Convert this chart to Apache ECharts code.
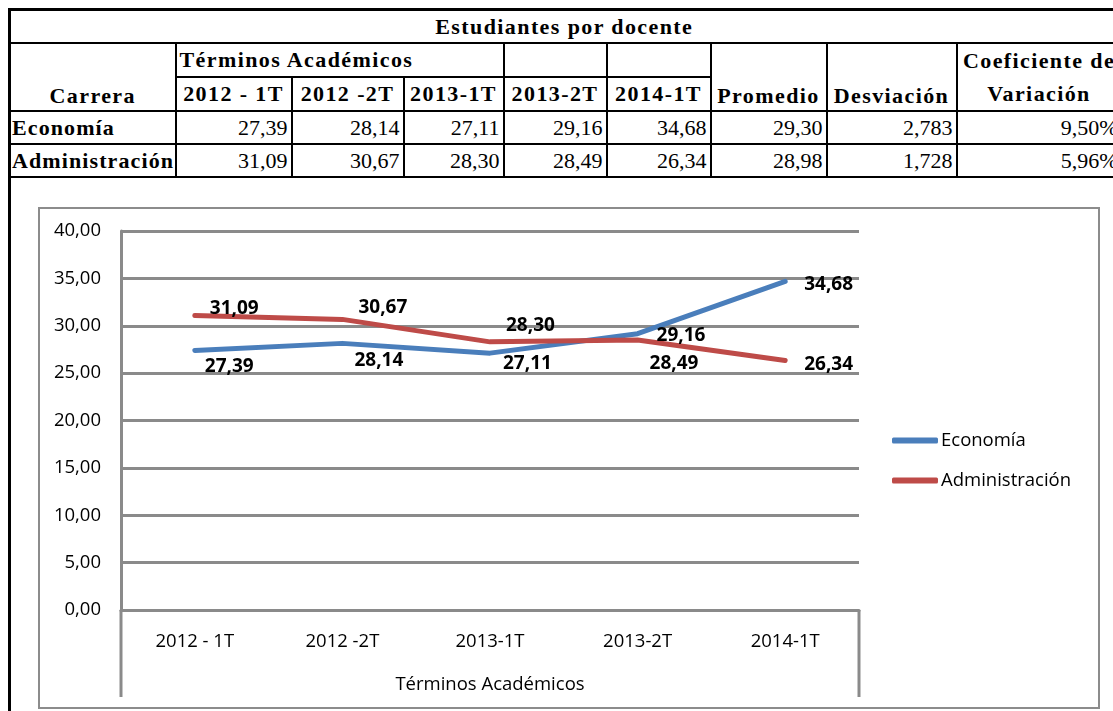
<!DOCTYPE html>
<html>
<head>
<meta charset="utf-8">
<script src="https://cdn.jsdelivr.net/npm/echarts@6/dist/echarts.min.js"></script>
<style>
  html, body { margin: 0; padding: 0; background: #fff; }
  body { width: 1113px; height: 711px; overflow: hidden; position: relative; }
  #tabla {
    position: absolute; left: 8px; top: 8px; width: 1112px;
    border-collapse: collapse; table-layout: fixed;
    font-family: "Liberation Serif", "Times New Roman", serif;
    font-size: 22px; color: #000;
  }
  #tabla td { border: 2px solid #000; height: 29px; padding: 0 3px; white-space: nowrap; overflow: hidden; line-height: 29px; }
  #tabla td.b { font-weight: bold; letter-spacing: 1.4px; }
  #tabla td.num { text-align: right; }
  #tabla td.c { text-align: center; }
  #tabla tr:first-child td { border-top-width: 3px; }
  #tabla td.l { border-left-width: 3px; }
  #tabla td.first { padding: 0 0 0 1px; letter-spacing: 1.1px; }
  #bordeIzq { position: absolute; left: 8px; top: 8px; width: 3px; height: 703px; background: #000; }
  #grafico {
    position: absolute; left: 38px; top: 207px; width: 1062px; height: 502px;
    border: 2px solid #8c8c8c; box-sizing: border-box;
  }
</style>
</head>
<body>
<table id="tabla"></table>
<div id="bordeIzq"></div>
<div id="grafico"></div>
<script>
"use strict";

const terminos = ["2012 - 1T", "2012 -2T", "2013-1T", "2013-2T", "2014-1T"];
const carreras = ["Economía", "Administración"];
const economia = [27.39, 28.14, 27.11, 29.16, 34.68];
const administracion = [31.09, 30.67, 28.30, 28.49, 26.34];
const promedio = [29.30, 28.98];
const desviacion = [2.783, 1.728];
const coefVariacion = [9.50, 5.96];

// label nudges, as placed by hand in the original sheet
const economiaLabelOffsets = [[4, 16], [6, 17], [7, 10], [13, 2], [13, 3]];
const administracionLabelOffsets = [[9, -7], [10, -12], [10, -16], [6, 24], [13, 4]];

const coma = (v, d) => v.toFixed(d).replace(".", ",");

// --- spreadsheet table ---
const colWidths = [166, 116, 112, 100, 103, 104, 116, 130, 165];
const tabla = document.getElementById("tabla");
let html = "<colgroup>" + colWidths.map((w) => `<col style="width:${w}px">`).join("") + "</colgroup>";
html += `<tr><td class="b c l" colspan="9" style="padding-left:0">Estudiantes por docente</td></tr>`;
html += `<tr><td class="b c l" rowspan="2" style="vertical-align:bottom">Carrera</td>` +
  `<td class="b" colspan="3" style="text-align:left">Términos Académicos</td><td></td><td></td>` +
  `<td class="b c" rowspan="2" style="vertical-align:bottom">Promedio</td>` +
  `<td class="b c" rowspan="2" style="vertical-align:bottom">Desviación</td>` +
  `<td class="b c" rowspan="2" style="line-height:33px">Coeficiente de<br>Variación</td></tr>`;
html += "<tr>" + terminos.map((t) => `<td class="b c" style="padding:0 1px">${t}</td>`).join("") + "</tr>";
const filas = [economia, administracion];
carreras.forEach((c, i) => {
  html += `<tr><td class="b l first" style="text-align:left">${c}</td>` +
    filas[i].map((v) => `<td class="num">${coma(v, 2)}</td>`).join("") +
    `<td class="num">${coma(promedio[i], 2)}</td>` +
    `<td class="num">${coma(desviacion[i], 3)}</td>` +
    `<td class="num">${coma(coefVariacion[i], 2)}%</td></tr>`;
});
tabla.innerHTML = html;
Array.from(tabla.rows).forEach((r) => (r.style.height = "33px"));

// --- chart ---
const chart = echarts.init(document.getElementById("grafico"), null, { width: 1058, height: 498 });
const gridLeft = 81, gridRight = 239, gridTop = 22, gridBottom = 97;
const gris = "#8a8a8a";
const fuente = "Open Sans";

const conEtiquetas = (vals, offs) =>
  vals.map((v, i) => ({ value: v, label: { offset: offs[i] } }));

const lineSeries = (name, color, vals, offs) => ({
  name,
  type: "line",
  data: conEtiquetas(vals, offs),
  symbol: "circle",
  symbolSize: 2,
  showSymbol: true,
  itemStyle: { color },
  lineStyle: { color, width: 5, cap: "round", join: "round" },
  label: {
    show: true,
    position: "right",
    distance: 5,
    formatter: (p) => coma(p.value, 2),
    fontFamily: fuente,
    fontWeight: "bold",
    fontSize: 19,
    color: "#000",
  },
  emphasis: { disabled: true },
  z: 3,
});

chart.setOption({
  animation: false,
  grid: { left: gridLeft, right: gridRight, top: gridTop, bottom: gridBottom, containLabel: false },
  legend: {
    orient: "vertical",
    left: 847,
    top: 217,
    itemWidth: 46,
    itemHeight: 6,
    itemGap: 21,
    icon: "roundRect",
    textStyle: { fontFamily: fuente, fontSize: 18.5, color: "#000", padding: [0, 0, 0, -2] },
    data: ["Economía", "Administración"],
  },
  xAxis: {
    type: "category",
    data: terminos,
    boundaryGap: true,
    axisLine: { show: true, lineStyle: { color: gris, width: 3 } },
    axisTick: { show: false },
    axisLabel: { fontFamily: fuente, fontSize: 18.5, color: "#000", margin: 22 },
    name: "Términos Académicos",
    nameLocation: "middle",
    nameGap: 65,
    nameTextStyle: { fontFamily: fuente, fontSize: 18.5, color: "#000" },
  },
  yAxis: {
    type: "value",
    min: 0,
    max: 40,
    interval: 5,
    axisLine: { show: true, lineStyle: { color: gris, width: 3 } },
    axisTick: { show: false },
    axisLabel: { fontFamily: fuente, fontSize: 18.5, color: "#000", margin: 20, formatter: (v) => coma(v, 2) },
    splitLine: { show: true, lineStyle: { color: gris, width: 3 } },
  },
  series: [
    lineSeries("Economía", "#4a7ebb", economia, economiaLabelOffsets),
    lineSeries("Administración", "#be4b48", administracion, administracionLabelOffsets),
  ],
});

// box under the plot that holds the category labels
const y0 = chart.convertToPixel({ yAxisIndex: 0 }, 0);
const x0 = gridLeft, x1 = 1058 - gridRight, yFondo = 488;
chart.setOption({
  graphic: [
    { type: "line", shape: { x1: x0, y1: y0, x2: x0, y2: yFondo }, style: { stroke: gris, lineWidth: 3 }, silent: true },
    { type: "line", shape: { x1: x1, y1: y0, x2: x1, y2: yFondo }, style: { stroke: gris, lineWidth: 3 }, silent: true },
  ],
});
</script>
</body>
</html>
